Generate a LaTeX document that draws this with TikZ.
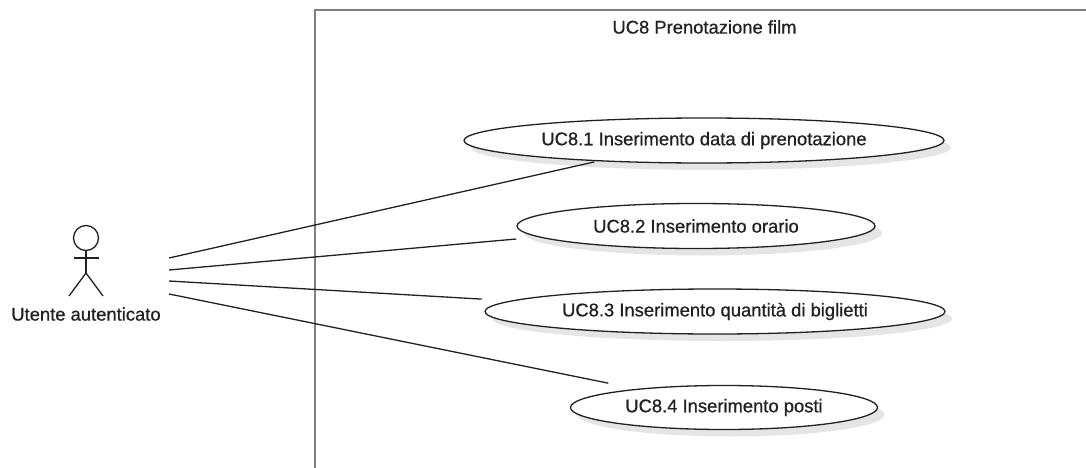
\documentclass[tikz,border=0pt]{standalone}
\usepackage{fontspec}
\setmainfont[FakeBold=0.7]{Liberation Sans}
\usetikzlibrary{shapes.geometric, shadows}
\definecolor{boundcolor}{gray}{0.5}
\definecolor{inkcolor}{gray}{0.13}
\tikzset{
    labeltext/.style={text=inkcolor, font=\fontsize{18.4}{20}\selectfont},
    usecase/.style={ellipse, draw=inkcolor, fill=white, line width=1.3pt, inner sep=0pt, labeltext,
        drop shadow={shadow xshift=7pt, shadow yshift=-7pt, fill=black, opacity=0.1}},
    link/.style={draw=inkcolor, line width=1.3pt}
}

\begin{document}
\begin{tikzpicture}[x=1pt, y=-1pt]
    \useasboundingbox (0,0) rectangle (1086,468);

    % system boundary
    \coordinate (boundbottom) at (315,468);
    \coordinate (boundcorner) at (315,10);
    \coordinate (boundright) at (1086,10);
    \draw [boundcolor, line width=2.2pt] (boundbottom) -- (boundcorner) -- (boundright);
    \node (boundtitle) [labeltext] at (704.5,27) {UC8 Prenotazione film};

    % actor
    \node (head) [circle, draw=inkcolor, line width=1.3pt, minimum size=25pt, inner sep=0pt] at (86,238) {};
    \coordinate (hip) at (86,273);
    \coordinate (armleft) at (74,258);
    \coordinate (armright) at (98.5,258);
    \coordinate (footleft) at (69,296);
    \coordinate (footright) at (103,296);
    \draw [link] (head.south) -- (hip);
    \draw [link] (armleft) -- (armright);
    \draw [link] (footleft) -- (hip) -- (footright);
    \node (actor) [labeltext] at (86,314) {Utente autenticato};

    % use cases
    \node (uc81) [usecase, minimum width=480pt, minimum height=45pt] at (704,140.5) {UC8.1 Inserimento data di prenotazione};
    \node (uc82) [usecase, minimum width=358pt, minimum height=45pt] at (696,226) {UC8.2 Inserimento orario};
    \node (uc83) [usecase, minimum width=460pt, minimum height=45pt] at (715,311.5) {UC8.3 Inserimento quantità di biglietti};
    \node (uc84) [usecase, minimum width=307pt, minimum height=44pt] at (724,407.5) {UC8.4 Inserimento posti};

    % free ends beside the actor
    \coordinate (from81) at (169,258);
    \coordinate (from82) at (169,270);
    \coordinate (from83) at (169,281);
    \coordinate (from84) at (169,294);

    \draw [link, shorten >=3pt] (from81) -- (uc81.191.8);
    \draw [link, shorten >=22pt] (from82) -- (uc82.184.3);
    \draw [link, shorten >=29pt] (from83) -- (uc83.177.06);
    \draw [link, shorten >=28.6pt] (from84) -- (uc84.168.9);
\end{tikzpicture}
\end{document}
